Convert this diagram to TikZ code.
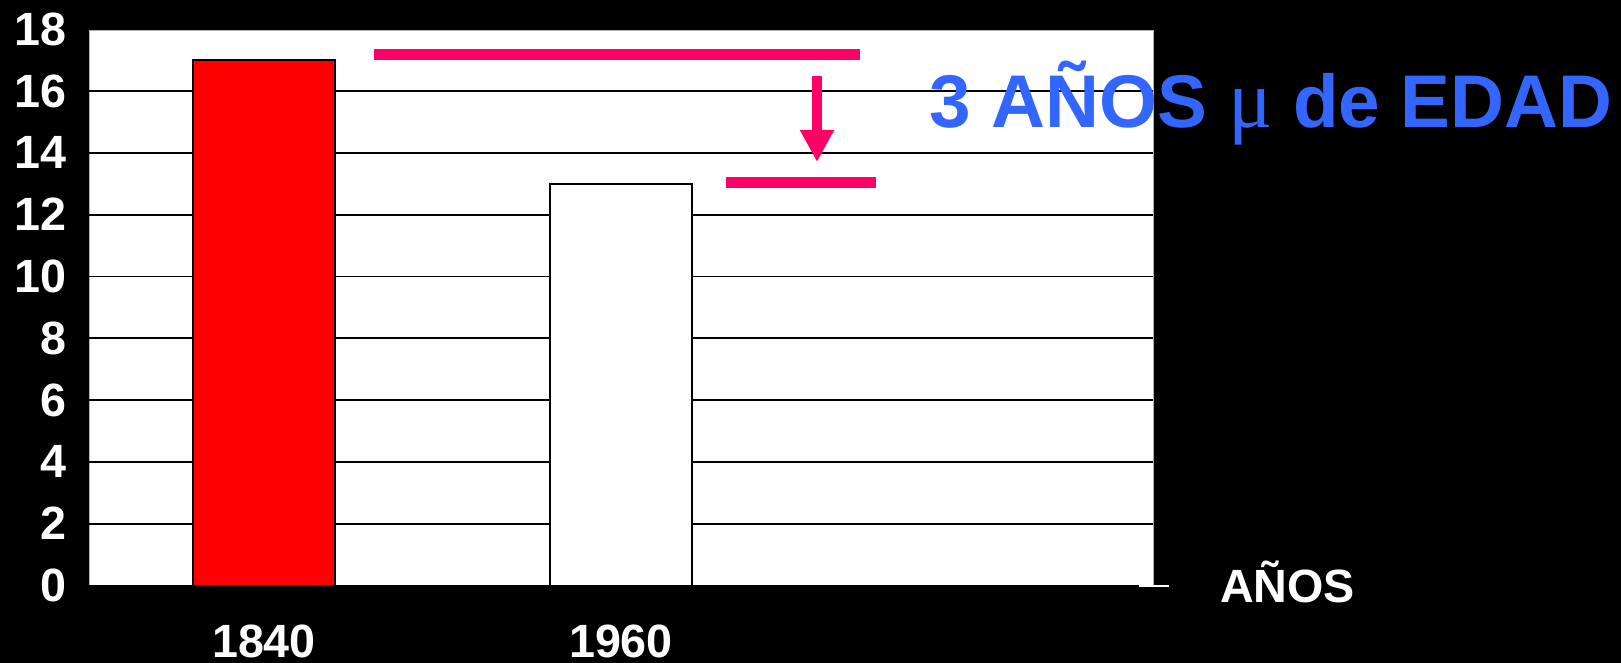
\documentclass[tikz,border=0pt]{standalone}
\usepackage{fontspec}
\setmainfont{Liberation Sans}
\newfontfamily\greekfont{Liberation Serif}
\usetikzlibrary{arrows.meta}
\definecolor{barred}{RGB}{255,0,0}
\definecolor{markpink}{RGB}{255,0,102}
\definecolor{notebluee}{RGB}{51,102,255}
\tikzset{
  axislbl/.style={text=white,font=\bfseries\fontsize{35}{40}\selectfont,inner sep=0pt},
  gridln/.style={black,line width=1.25pt},
  barbox/.style={draw=black,line width=1.5pt},
  pinkmark/.style={draw=markpink,line width=8pt},
}
\begin{document}
\begin{tikzpicture}[x=0.75pt,y=0.75pt,yscale=-1,xscale=1]
%set diagram to 1621 x 663
\useasboundingbox (0,0) rectangle (1621,663);
\fill [black] (0,0) rectangle (1621,663);

%Plot area
\filldraw [fill=white,draw=gray!60,line width=0.75pt] (89,30.5) rectangle (1153,585.5);
%Grid lines
\foreach \v in {2,4,...,16}
  \draw [gridln] (89,{585.5-30.9*\v}) -- (1153,{585.5-30.9*\v});
%Axis
\draw [gridln] (89,585.5) -- (1139,585.5);
\draw [white,line width=1.5pt] (1139,585.5) -- (1169,585.5);

%Bars
\filldraw [barbox,fill=barred] (193,585.5) rectangle (335,{585.5-30.9*17});
\filldraw [barbox,fill=white] (550,585.5) rectangle (692,{585.5-30.9*13});

%Pink marks
\draw [pinkmark] (374,54.7) -- (860,54.7);
\draw [pinkmark] (726,182.4) -- (876,182.4);
\coordinate (droptop) at (817,76);
\coordinate (droptip) at (817,162);
\draw [markpink,line width=8pt,-{Triangle[length=24pt,width=24pt]}] (droptop) -- (droptip);

% Text Node
\node [anchor=base west,inner sep=0pt,text=notebluee,font=\bfseries\fontsize{56}{60}\selectfont] (note) at (929,128)
  {3 AÑOS {\mdseries\greekfont\fontsize{62}{66}\selectfont μ} de EDAD};

% Y labels
\foreach \v in {0,2,...,18}
  \node [axislbl,anchor=east] (ylbl\v) at (67,{585.5-30.9*\v}) {\v};
% X labels
\node [axislbl,anchor=base] (yr1840) at (264,657) {1840};
\node [axislbl,anchor=base] (yr1960) at (621,657) {1960};
\node [axislbl,anchor=base west] (xname) at (1220,602) {AÑOS};
\end{tikzpicture}
\end{document}
